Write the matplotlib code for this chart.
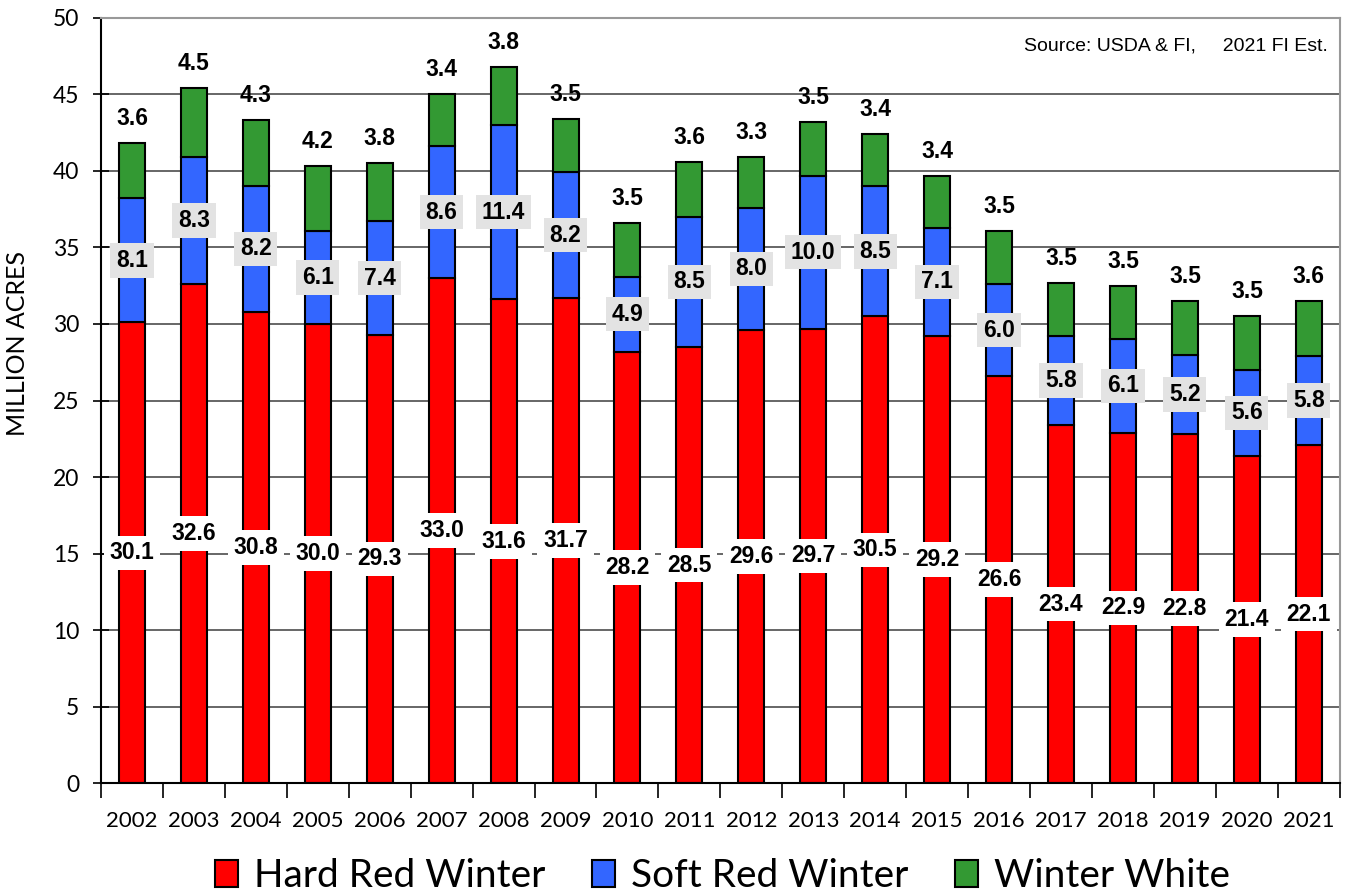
import matplotlib.pyplot as plt
import numpy as np

# Winter wheat planted area by class
years = [str(y) for y in range(2002, 2022)]
hard_red = [30.1, 32.6, 30.8, 30.0, 29.3, 33.0, 31.6, 31.7, 28.2, 28.5,
            29.6, 29.7, 30.5, 29.2, 26.6, 23.4, 22.9, 22.8, 21.4, 22.1]
soft_red = [8.1, 8.3, 8.2, 6.1, 7.4, 8.6, 11.4, 8.2, 4.9, 8.5,
            8.0, 10.0, 8.5, 7.1, 6.0, 5.8, 6.1, 5.2, 5.6, 5.8]
white = [3.6, 4.5, 4.3, 4.2, 3.8, 3.4, 3.8, 3.5, 3.5, 3.6,
         3.3, 3.5, 3.4, 3.4, 3.5, 3.5, 3.5, 3.5, 3.5, 3.6]

hrw = np.array(hard_red)
srw = np.array(soft_red)
ww = np.array(white)
x = np.arange(len(years))
w = 0.42

fig = plt.figure(figsize=(13.48, 8.94), dpi=100)
ax = fig.add_axes([0.0749, 0.124, 0.919, 0.856])

ax.set_axisbelow(True)
ax.yaxis.grid(True, color="#4d4d4d", lw=1.2)

b1 = ax.bar(x, hrw, w, color="#ff0000", edgecolor="black", lw=1.5, label="Hard Red Winter")
b2 = ax.bar(x, srw, w, bottom=hrw, color="#3366ff", edgecolor="black", lw=1.5, label="Soft Red Winter")
b3 = ax.bar(x, ww, w, bottom=hrw + srw, color="#339933", edgecolor="black", lw=1.5, label="Winter White")

lab = dict(ha="center", va="center", fontsize=16.5, fontweight="bold",
           family="Liberation Sans")
for i in range(len(years)):
    ax.text(x[i], hrw[i] / 2, f"{hrw[i]:.1f}",
            bbox=dict(boxstyle="square,pad=0.25", fc="white", ec="none"), **lab)
    ax.text(x[i], hrw[i] + srw[i] / 2, f"{srw[i]:.1f}",
            bbox=dict(boxstyle="square,pad=0.25", fc="#e3e3e3", ec="none"), **lab)
    ax.text(x[i], hrw[i] + srw[i] + ww[i] + 1.6, f"{ww[i]:.1f}", **lab)

ax.set_xlim(-0.5, len(years) - 0.5)
ax.set_ylim(0, 50)
ax.set_yticks(range(0, 51, 5))
ax.set_xticks(x)
ax.set_xticklabels(years)
ax.set_xticks(np.arange(-0.5, len(years), 1), minor=True)
ax.tick_params(axis="x", which="major", length=0, pad=20, labelsize=16)
ax.tick_params(axis="x", which="minor", length=11, width=1.2, direction="out")
ax.tick_params(axis="y", length=11, width=1.2, direction="inout", labelsize=16.5, pad=10)
for t in ax.get_xticklabels() + ax.get_yticklabels():
    t.set_family("Lato")

ax.set_ylabel("MILLION ACRES", fontsize=18, family="Lato")
ax.yaxis.set_label_coords(-0.058, 0.575)

for s in ("top", "right"):
    ax.spines[s].set_color("#999999")
    ax.spines[s].set_linewidth(1.5)
for s in ("left", "bottom"):
    ax.spines[s].set_color("black")
    ax.spines[s].set_linewidth(1.5)

ax.text(0.99, 0.963, "Source: USDA & FI,     2021 FI Est.", transform=ax.transAxes,
        ha="right", va="center", fontsize=14, family="Liberation Sans")

fig.legend(handles=[b1, b2, b3], loc="center", bbox_to_anchor=(0.536, 0.02),
           ncol=3, frameon=False, prop={"family": "Lato", "size": 28},
           handlelength=0.6, handleheight=0.7, handletextpad=0.4, columnspacing=1.2)

fig.savefig("out.png", dpi=100)
